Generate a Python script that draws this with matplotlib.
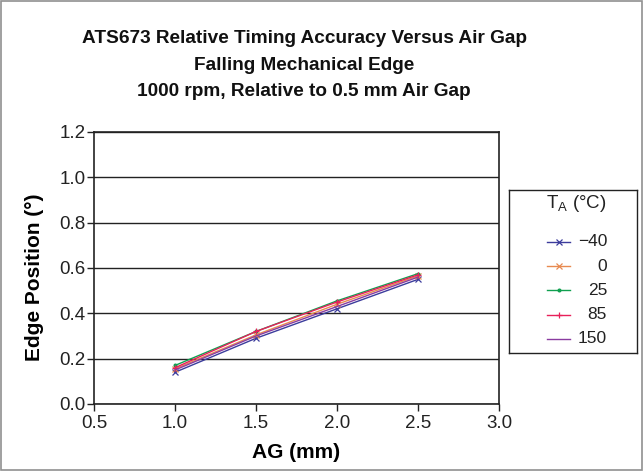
import matplotlib
matplotlib.use('Agg')
import matplotlib.pyplot as plt
from matplotlib.patches import Rectangle
from matplotlib.ticker import FormatStrFormatter

plt.rcParams['font.family'] = ['Liberation Sans', 'DejaVu Sans']

# air gap (mm)
AG = [1.0, 1.5, 2.0, 2.5]

# edge position (deg) per ambient temperature
TEMPS = ['\u221240', '0', '25', '85', '150']
EDGE_M40 = [0.14, 0.29, 0.42, 0.55]
EDGE_0 = [0.155, 0.305, 0.44, 0.565]
EDGE_25 = [0.17, 0.32, 0.455, 0.575]
EDGE_85 = [0.16, 0.32, 0.45, 0.57]
EDGE_150 = [0.15, 0.30, 0.43, 0.56]

SERIES = [EDGE_M40, EDGE_0, EDGE_25, EDGE_85, EDGE_150]
COLORS = ['#3c3c9c', '#e88a50', '#10a050', '#e8205a', '#8a3ca0']
MARKERS = ['x', 'x', '.', '+', None]

W, H = 643, 471
fig = plt.figure(figsize=(W / 100, H / 100), dpi=100)
fig.patches.append(Rectangle((0.002, 0.002), 0.996, 0.996, transform=fig.transFigure,
                             fill=False, edgecolor='#909090', lw=1.2))

ax = fig.add_axes([94 / W, 1 - 404 / H, 405 / W, 272 / H])

for vals, col, mk, lab in zip(SERIES, COLORS, MARKERS, TEMPS):
    ax.plot(AG, vals, color=col, lw=1.0, marker=mk, ms=4, mew=0.9, label=lab)

ax.set_xlim(0.5, 3.0)
ax.set_ylim(0.0, 1.2)
ax.set_xticks([0.5, 1.0, 1.5, 2.0, 2.5, 3.0])
ax.set_yticks([0.0, 0.2, 0.4, 0.6, 0.8, 1.0, 1.2])
ax.xaxis.set_major_formatter(FormatStrFormatter('%.1f'))
ax.yaxis.set_major_formatter(FormatStrFormatter('%.1f'))
ax.tick_params(direction='out', length=5, width=1, labelsize=13.5, colors='#222222')
ax.tick_params(axis='y', pad=1)
ax.tick_params(axis='x', pad=3)
ax.grid(axis='y', color='#222222', lw=1)
ax.set_axisbelow(True)
for s in ax.spines.values():
    s.set_color('#222222')
    s.set_linewidth(1.2)

ax.set_xlabel('AG (mm)', fontsize=15, fontweight='bold', labelpad=8)
ax.set_ylabel('Edge Position (\u00b0)', fontsize=15, fontweight='bold')
ax.yaxis.set_label_coords(-0.123, 0.467)

title = ('ATS673 Relative Timing Accuracy Versus Air Gap\n'
         'Falling Mechanical Edge\n'
         '1000 rpm, Relative to 0.5 mm Air Gap')
fig.text(304 / W, 1 - 65 / H, title, ha='center', va='center',
         fontsize=13.7, fontweight='bold', linespacing=1.72, color='#111111')

# legend drawn in its own small axes (pixel units inside the box)
lax = fig.add_axes([509 / W, 1 - 353 / H, 128 / W, 163 / H])
lax.set_xlim(0, 128)
lax.set_ylim(163, 0)
lax.set_xticks([])
lax.set_yticks([])
for s in lax.spines.values():
    s.set_color('#222222')
    s.set_linewidth(1.0)
lax.text(98, 14, 'T$_\\mathregular{A}$ (\u00b0C)', ha='right', va='center',
         fontsize=13.5, color='#222222')
for i, (col, mk, lab) in enumerate(zip(COLORS, MARKERS, TEMPS)):
    y = 52 + i * 24.2
    lax.plot([38, 49.5, 61], [y, y, y], color=col, lw=1.0, marker=mk, ms=4, mew=0.9,
             markevery=[1])
    lax.text(98, y, lab, ha='right', va='center', fontsize=12.5, color='#222222')

fig.savefig('out.png', dpi=100)
